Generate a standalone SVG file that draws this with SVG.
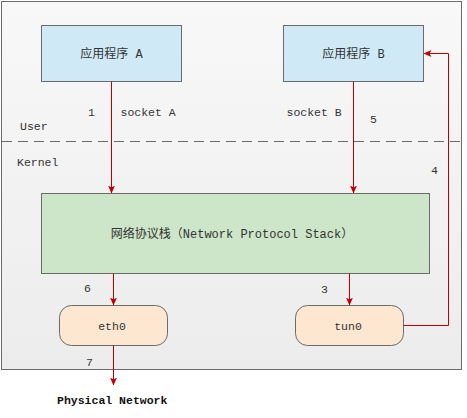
<svg xmlns="http://www.w3.org/2000/svg" width="467" height="418" viewBox="0 0 467 418">
<defs>
<linearGradient id="bg" x1="0" y1="0" x2="0" y2="1">
<stop offset="0" stop-color="#f8f8f8"/>
<stop offset="1" stop-color="#ececec"/>
</linearGradient>
<marker id="arr" viewBox="0 0 8 8" refX="7.5" refY="4" markerWidth="8" markerHeight="8" markerUnits="userSpaceOnUse" orient="auto">
<path d="M0,0.5 L8,4 L0,7.5 L2,4 Z" fill="#c00000"/>
</marker>
</defs>
<style>
text{font-family:"Liberation Mono","Noto Sans CJK SC",monospace;font-size:12px;fill:#333}
.box{stroke:#6b6b6b;stroke-width:1}
.lbl{font-size:11.5px}
.wire{stroke:#c00000;stroke-width:1;fill:none;marker-end:url(#arr)}
</style>
<g id="container">
<rect x="1.5" y="1.5" width="460" height="368" fill="url(#bg)" stroke="#6b6b6b" stroke-width="1"/>
<line x1="2" y1="141.5" x2="461" y2="141.5" stroke="#6b6b6b" stroke-width="1" stroke-dasharray="10,6"/>
<text x="20" y="130" class="lbl">User</text>
<text x="17" y="166" class="lbl">Kernel</text>
</g>
<g id="appA">
<rect class="box" x="41.5" y="25.5" width="140" height="56" fill="#cfeaf6"/>
<text x="111.5" y="57.5" text-anchor="middle">应用程序 A</text>
</g>
<g id="appB">
<rect class="box" x="283.5" y="25.5" width="140" height="56" fill="#cfeaf6"/>
<text x="353.5" y="57.5" text-anchor="middle">应用程序 B</text>
</g>
<g id="stack">
<rect class="box" x="41.5" y="193.5" width="388" height="80" fill="#cde5c8"/>
<text x="232" y="238" text-anchor="middle">网络协议栈（Network Protocol Stack）</text>
</g>
<g id="eth0">
<rect class="box" x="59.5" y="305.5" width="108" height="40" rx="12" fill="#fde7d0"/>
<text x="112" y="330" text-anchor="middle" class="lbl">eth0</text>
</g>
<g id="tun0">
<rect class="box" x="295.5" y="305.5" width="108" height="40" rx="12" fill="#fde7d0"/>
<text x="348" y="330" text-anchor="middle" class="lbl">tun0</text>
</g>
<g id="connectors">
<path class="wire" d="M111.5,81.5 V193"/>
<path class="wire" d="M353.5,81.5 V193"/>
<path class="wire" d="M113.5,273.5 V305"/>
<path class="wire" d="M349.5,273.5 V305"/>
<path class="wire" d="M113.5,345.5 V385"/>
<path class="wire" d="M403.5,325.5 H448.5 V53.5 H424"/>
</g>
<g id="labels">
<text x="88" y="116" class="lbl">1</text>
<text x="120.5" y="116" class="lbl">socket A</text>
<text x="286.5" y="116" class="lbl">socket B</text>
<text x="370" y="123" class="lbl">5</text>
<text x="431" y="174" class="lbl">4</text>
<text x="84" y="292" class="lbl">6</text>
<text x="321" y="293" class="lbl">3</text>
<text x="86" y="366" class="lbl">7</text>
<text x="57" y="404" class="lbl" style="font-weight:bold;fill:#111">Physical Network</text>
</g>
</svg>
